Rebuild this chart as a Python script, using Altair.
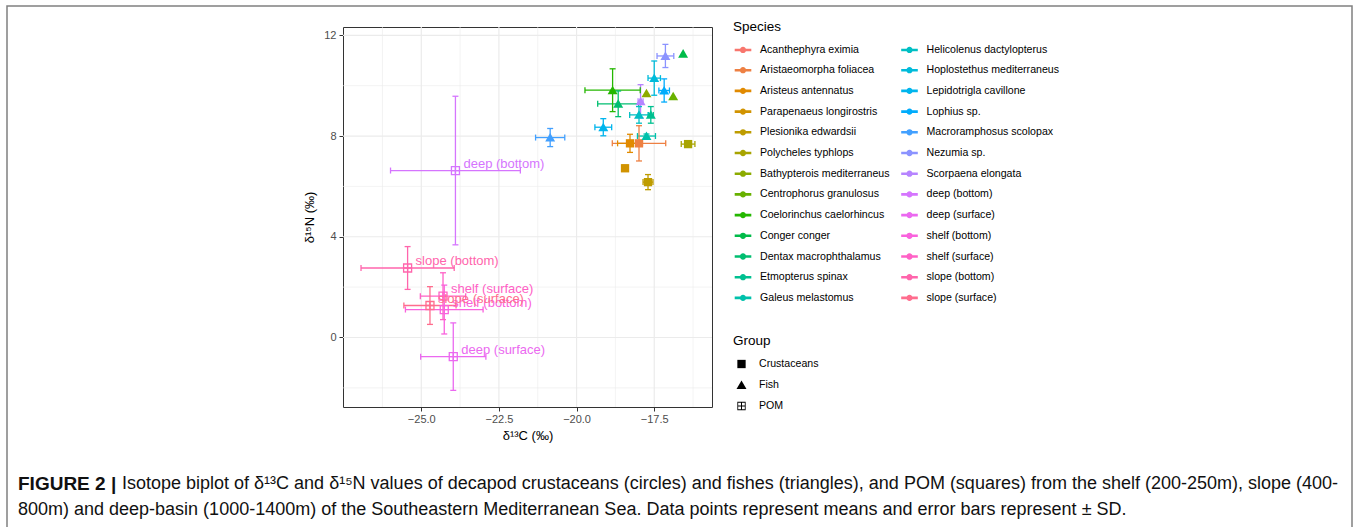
import math
import altair as alt
import pandas as pd

# ---------------- data ----------------
species = [
    "Acanthephyra eximia", "Aristaeomorpha foliacea", "Aristeus antennatus",
    "Parapenaeus longirostris", "Plesionika edwardsii", "Polycheles typhlops",
    "Bathypterois mediterraneus", "Centrophorus granulosus", "Coelorinchus caelorhincus",
    "Conger conger", "Dentax macrophthalamus", "Etmopterus spinax", "Galeus melastomus",
    "Helicolenus dactylopterus", "Hoplostethus mediterraneus", "Lepidotrigla cavillone",
    "Lophius sp.", "Macroramphosus scolopax", "Nezumia sp.", "Scorpaena elongata",
    "deep (bottom)", "deep (surface)", "shelf (bottom)", "shelf (surface)",
    "slope (bottom)", "slope (surface)",
]
groups = ["Crustaceans"] * 6 + ["Fish"] * 14 + ["POM"] * 6
d13c = [None, -17.99, -18.28, -18.44, -17.70, -16.41,
        -17.75, -16.89, -18.84, -16.57, -18.66, -17.61, -17.75,
        -17.99, -17.50, -19.14, -17.18, -20.85, -17.14, -17.94,
        -23.90, -23.97, -24.26, -24.30, -25.44, -24.72]
d15n = [None, 7.71, 7.71, 6.72, 6.17, 7.68,
        9.70, 9.58, 9.82, 11.27, 9.28, 8.84, 8.00,
        8.84, 10.30, 8.35, 9.81, 7.94, 11.18, 9.38,
        6.63, -0.76, 1.11, 1.64, 2.76, 1.27]
sd_c = [None, 0.86, 0.40, 0.0, 0.16, 0.22,
        0.0, 0.0, 0.89, 0.0, 0.66, 0.08, 0.29,
        0.30, 0.20, 0.27, 0.17, 0.47, 0.27, 0.08,
        2.09, 1.05, 1.25, 0.73, 1.50, 0.84]
sd_n = [None, 0.70, 0.36, 0.12, 0.30, 0.08,
        0.0, 0.0, 0.85, 0.0, 0.51, 0.33, 0.08,
        0.33, 0.68, 0.34, 0.46, 0.36, 0.46, 0.66,
        2.95, 1.34, 0.97, 0.93, 0.85, 0.75]

x_major = [-25.0, -22.5, -20.0, -17.5]
x_minor = [-26.25, -23.75, -21.25, -18.75, -16.25]
y_major = [0, 4, 8, 12]
y_minor = [-2, 2, 6, 10]
group_names = ["Crustaceans", "Fish", "POM"]

caption_bold = "FIGURE 2 |"
caption_1 = ("Isotope biplot of δ¹³C and δ¹⁵N values of decapod crustaceans (circles) and fishes "
             "(triangles), and POM (squares) from the shelf (200-250m), slope (400-")
caption_2 = ("800m) and deep-basin (1000-1400m) of the Southeastern Mediterranean Sea. "
             "Data points represent means and error bars represent ± SD.")


# ---------------- ggplot hue palette ----------------
def hcl_hex(h, c=100.0, l=65.0):
    hr = math.radians(h)
    U, V = c * math.cos(hr), c * math.sin(hr)
    Xn, Yn, Zn = 95.047, 100.0, 108.883
    Y = Yn * ((l + 16) / 116) ** 3
    t = Xn + Yn + Zn
    x, y = Xn / t, Yn / t
    uN = 2 * x / (6 * y - x + 1.5)
    vN = 4.5 * y / (6 * y - x + 1.5)
    u = U / (13 * l) + uN
    v = V / (13 * l) + vN
    X = 9.0 * Y * u / (4 * v)
    Z = -X / 3 - 5 * Y + 3 * Y / v
    X, Y, Z = X / 100, Y / 100, Z / 100
    rgb = [3.240479 * X - 1.537150 * Y - 0.498535 * Z,
           -0.969256 * X + 1.875992 * Y + 0.041556 * Z,
           0.055648 * X - 0.204043 * Y + 1.057311 * Z]
    out = []
    for ch in rgb:
        ch = 1.055 * ch ** (1 / 2.4) - 0.055 if ch > 0.0031308 else 12.92 * ch
        out.append(int(round(min(max(ch, 0), 1) * 255)))
    return "#%02X%02X%02X" % tuple(out)


n = len(species)
colors = [hcl_hex(15 + i * 360 / n) for i in range(n)]

df = pd.DataFrame({"species": species, "group": groups, "c": d13c, "n": d15n,
                   "sc": sd_c, "sn": sd_n}).dropna()
df["clo"] = df["c"] - df["sc"]
df["chi"] = df["c"] + df["sc"]
df["nlo"] = df["n"] - df["sn"]
df["nhi"] = df["n"] + df["sn"]

FONT = "Liberation Sans"
xs = alt.Scale(domain=[-27.52, -15.64], nice=False, zero=False)
ys = alt.Scale(domain=[-2.76, 12.33], nice=False, zero=False)
cs = alt.Scale(domain=species, range=colors)

xaxis = alt.Axis(values=x_major, format=".1f", title="δ¹³C (‰)", grid=False, domain=False,
                 tickColor="#333333", tickSize=4, labelColor="#4D4D4D", labelFontSize=11,
                 labelFont=FONT, titleFont=FONT, titleFontSize=13, titleColor="black",
                 titleFontWeight="normal", labelPadding=2, titlePadding=5)
yaxis = alt.Axis(values=y_major, format="d", title="δ¹⁵N (‰)", grid=False, domain=False,
                 tickColor="#333333", tickSize=4, labelColor="#4D4D4D", labelFontSize=11,
                 labelFont=FONT, titleFont=FONT, titleFontSize=13, titleColor="black",
                 titleFontWeight="normal", labelPadding=3, titlePadding=7)

def X(field):
    return alt.X(field, type="quantitative", scale=xs, axis=xaxis)

def Y(field):
    return alt.Y(field, type="quantitative", scale=ys, axis=yaxis)

def C():
    return alt.Color("species:N", scale=cs, legend=None)

# grid
gx = pd.DataFrame({"v": x_major + x_minor, "w": [1.2] * len(x_major) + [0.6] * len(x_minor)})
gy = pd.DataFrame({"v": y_major + y_minor, "w": [1.2] * len(y_major) + [0.6] * len(y_minor)})
grid_x = alt.Chart(gx).mark_rule(color="#EBEBEB").encode(
    x=X("v"), strokeWidth=alt.StrokeWidth("w:Q", scale=None))
grid_y = alt.Chart(gy).mark_rule(color="#EBEBEB").encode(
    y=Y("v"), strokeWidth=alt.StrokeWidth("w:Q", scale=None))

err = alt.Chart(df)
hbar = err.transform_filter("datum.sc > 0").mark_rule(strokeWidth=1.3).encode(
    x=X("clo"), x2="chi", y=Y("n"), color=C())
vbar = err.transform_filter("datum.sn > 0").mark_rule(strokeWidth=1.3).encode(
    y=Y("nlo"), y2="nhi", x=X("c"), color=C())
hcap = err.transform_filter("datum.sc > 0").transform_fold(["clo", "chi"], as_=["k", "cv"]).mark_point(
    shape="M0,-1L0,1", size=36, filled=False, strokeWidth=1.3, opacity=1).encode(
    x=X("cv"), y=Y("n"), color=C())
vcap = err.transform_filter("datum.sn > 0").transform_fold(["nlo", "nhi"], as_=["k", "nv"]).mark_point(
    shape="M-1,0L1,0", size=36, filled=False, strokeWidth=1.3, opacity=1).encode(
    x=X("c"), y=Y("nv"), color=C())

SQ = "M-0.5,-0.5L0.5,-0.5L0.5,0.5L-0.5,0.5Z"
TRI = "M0,-0.55L0.6,0.48L-0.6,0.48Z"
BOXPLUS = ("M-0.5,-0.5L0.5,-0.5L0.5,0.5L-0.5,0.5Z"
           "M-0.4,-0.4L-0.4,-0.06L-0.06,-0.06L-0.06,-0.4Z"
           "M0.06,-0.4L0.06,-0.06L0.4,-0.06L0.4,-0.4Z"
           "M-0.4,0.06L-0.4,0.4L-0.06,0.4L-0.06,0.06Z"
           "M0.06,0.06L0.06,0.4L0.4,0.4L0.4,0.06Z")
KEY = "M-1,0L1,0M-0.22,0A0.22,0.22 0 1,0 0.22,0A0.22,0.22 0 1,0 -0.22,0"

group_legend = alt.Legend(
    title="Group", orient="none", legendX=390, legendY=307, symbolSize=276,
    symbolFillColor="black", symbolStrokeColor="black", symbolStrokeWidth=0,
    symbolOpacity=1, labelFont=FONT, labelFontSize=10.6, labelColor="black",
    titleFont=FONT, titleFontSize=13.5, titleFontWeight="normal", titleColor="black",
    rowPadding=6, labelOffset=9, titlePadding=8, padding=0)

pts = alt.Chart(df[df["group"] != "POM"]).mark_point(filled=True, size=276, opacity=1).encode(
    x=X("c"), y=Y("n"), color=C(),
    shape=alt.Shape("group:N", scale=alt.Scale(domain=group_names, range=[SQ, TRI, BOXPLUS]),
                    legend=group_legend))

species_legend = alt.Legend(
    title="Species", orient="none", legendX=390, legendY=-7, columns=2,
    symbolType=KEY, symbolSize=276, symbolStrokeWidth=2.6, symbolOpacity=1,
    labelFont=FONT, labelFontSize=10.6, labelColor="black", titleFont=FONT,
    titleFontSize=13.5, titleFontWeight="normal", titleColor="black",
    rowPadding=2.7, columnPadding=5.5, labelOffset=7, titlePadding=6, padding=0,
    labelLimit=300)

pom = alt.Chart(df[df["group"] == "POM"])
pom_pts = pom.mark_point(filled=False, shape="M-1,-1L1,-1L1,1L-1,1ZM0,-1L0,1M-1,0L1,0",
                         size=64, strokeWidth=1.3, opacity=1).encode(
    x=X("c"), y=Y("n"),
    color=alt.Color("species:N", scale=cs, legend=species_legend))
pom_txt = pom.mark_text(align="left", baseline="middle", dx=8, dy=-7, font=FONT,
                        fontSize=13).encode(
    x=X("c"), y=Y("n"), text="species:N", color=C())

one = pd.DataFrame({"a": [0]})
frame = alt.Chart(one).mark_rect(fill=None, stroke="#808080", strokeWidth=1.5).encode(
    x=alt.value(-336), x2=alt.value(1009), y=alt.value(-21), y2=alt.value(510))
cap_b = alt.Chart(one).mark_text(align="left", baseline="middle", font=FONT, fontSize=19,
                                 fontWeight="bold", color="#111111").encode(
    x=alt.value(-325), y=alt.value(457), text=alt.value(caption_bold))
cap_1 = alt.Chart(one).mark_text(align="left", baseline="middle", font=FONT, fontSize=18,
                                 color="#111111").encode(
    x=alt.value(-221), y=alt.value(457), text=alt.value(caption_1))
cap_2 = alt.Chart(one).mark_text(align="left", baseline="middle", font=FONT, fontSize=18,
                                 color="#111111").encode(
    x=alt.value(-325), y=alt.value(483), text=alt.value(caption_2))

chart = alt.layer(
    frame, grid_x, grid_y, hbar, vbar, hcap, vcap, pts, pom_pts, pom_txt, cap_b, cap_1, cap_2
).resolve_legend(color="independent").properties(
    width=369, height=380,
    autosize=alt.AutoSizeParams(type="none"),
    padding={"left": 343, "top": 27, "right": 644, "bottom": 120},
    background="white",
).configure_view(stroke="#333333", strokeWidth=1)

chart.save("out.html", embed_options={"renderer": "svg", "actions": False})
